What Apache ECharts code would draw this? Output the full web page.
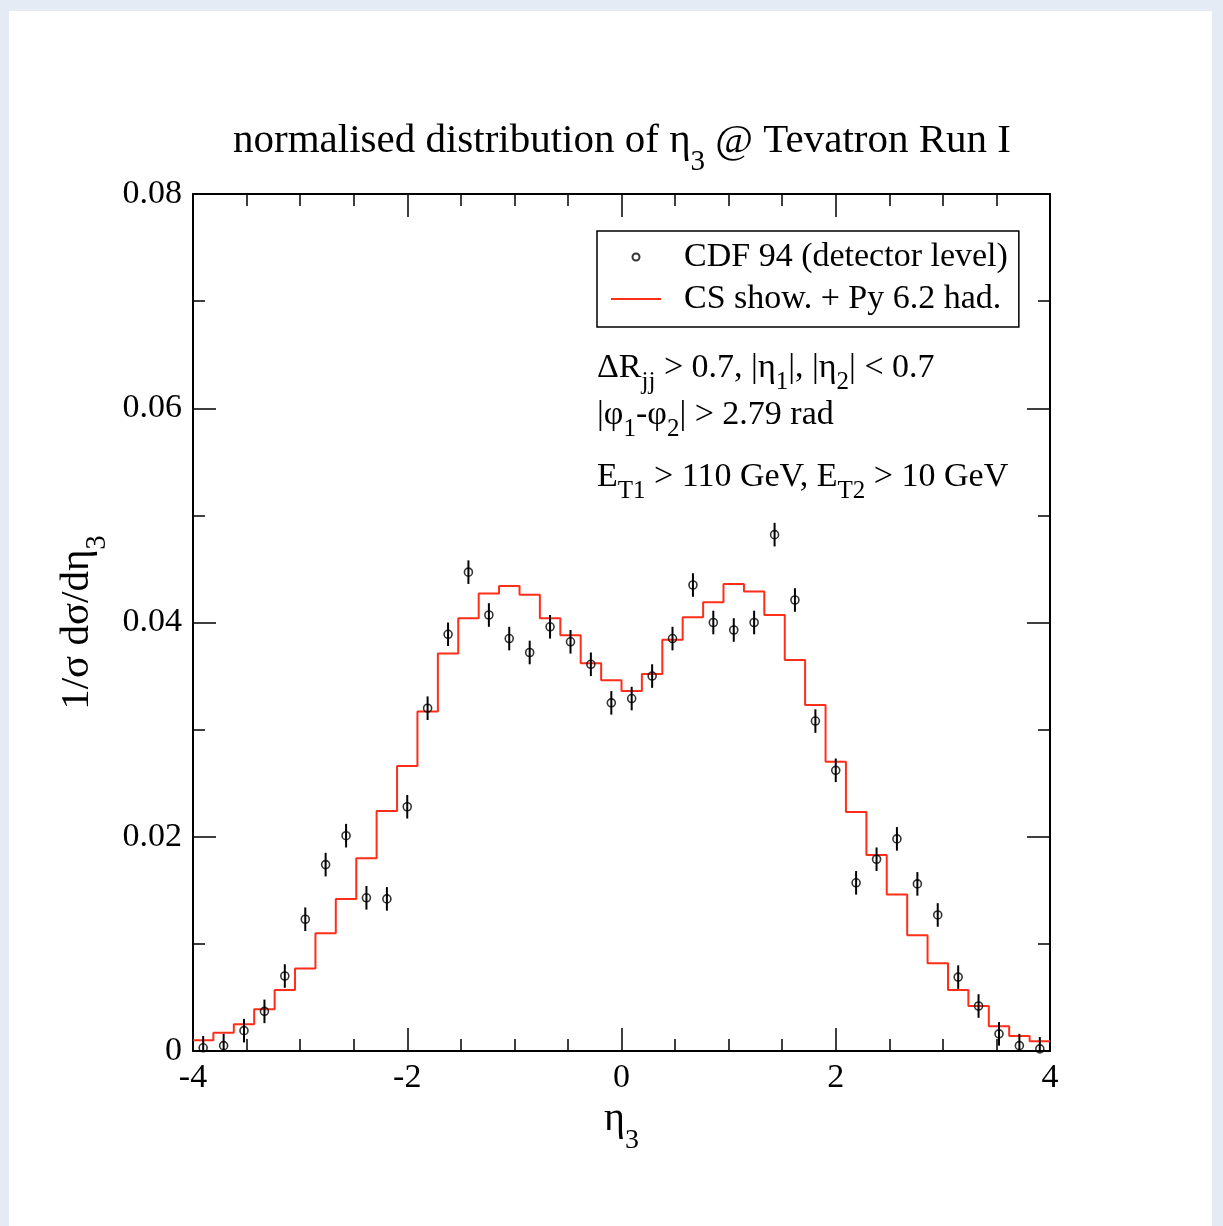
<!DOCTYPE html>
<html>
<head>
<meta charset="utf-8">
<script src="https://cdn.jsdelivr.net/npm/echarts@6.0.0/dist/echarts.min.js"></script>
<style>
  html, body { margin: 0; padding: 0; }
  body { width: 1223px; height: 1226px; background: #e4ebf5; position: relative; overflow: hidden; }
  .sheet { position: absolute; left: 9px; top: 11px; width: 1203px; height: 1215px; background: #fff; }
  #chart { position: absolute; left: 0; top: 0; width: 1223px; height: 1226px; }
</style>
</head>
<body>
<div class="sheet"></div>
<div id="chart"></div>
<script>
// eta_3 bin edges of the histogram (42 bins from -4 to 4)
const binEdges = [-4.000, -3.810, -3.619, -3.429, -3.238, -3.048, -2.857, -2.667, -2.476, -2.286,
  -2.095, -1.905, -1.714, -1.524, -1.333, -1.143, -0.952, -0.762, -0.571, -0.381, -0.190, 0.000,
  0.190, 0.381, 0.571, 0.762, 0.952, 1.143, 1.333, 1.524, 1.714, 1.905, 2.095, 2.286, 2.476,
  2.667, 2.857, 3.048, 3.238, 3.429, 3.619, 3.810, 4.000]
// bin centres where CDF points sit
const binCenters = [-3.905, -3.714, -3.524, -3.333, -3.143, -2.952, -2.762, -2.571, -2.381, -2.190,
  -2.000, -1.810, -1.619, -1.429, -1.238, -1.048, -0.857, -0.667, -0.476, -0.286, -0.095,
  0.095, 0.286, 0.476, 0.667, 0.857, 1.048, 1.238, 1.429, 1.619, 1.810, 2.000, 2.190, 2.381,
  2.571, 2.762, 2.952, 3.143, 3.333, 3.524, 3.714, 3.905]
// CS shower + Pythia 6.2 hadronisation (red histogram)
const mcValues = [0.0010, 0.0017, 0.0025, 0.0039, 0.0057, 0.0077, 0.0110, 0.0142, 0.0180, 0.0224,
  0.0266, 0.0317, 0.0371, 0.0404, 0.0427, 0.0434, 0.0426, 0.0404, 0.0388, 0.0362, 0.0346,
  0.0336, 0.0352, 0.0384, 0.0405, 0.0419, 0.0436, 0.0429, 0.0407, 0.0365, 0.0323, 0.0270,
  0.0223, 0.0183, 0.0146, 0.0108, 0.0082, 0.0057, 0.0042, 0.0023, 0.0014, 0.0009]
// CDF 94 detector level data
const cdfValues = [0.0003, 0.0005, 0.0019, 0.0037, 0.0070, 0.0123, 0.0174, 0.0201, 0.0143, 0.0142,
  0.0228, 0.0320, 0.0389, 0.0447, 0.0407, 0.0385, 0.0372, 0.0396, 0.0382, 0.0361, 0.0325,
  0.0329, 0.0350, 0.0385, 0.0435, 0.0400, 0.0393, 0.0400, 0.0482, 0.0421, 0.0308, 0.0262,
  0.0157, 0.0179, 0.0198, 0.0156, 0.0127, 0.0069, 0.0042, 0.0016, 0.0005, 0.0002]
const cdfErrors = [0.0011, 0.0011, 0.0011, 0.0011, 0.0011, 0.0011, 0.0011, 0.0011, 0.0011, 0.0011,
  0.0011, 0.0011, 0.0011, 0.0011, 0.0011, 0.0011, 0.0011, 0.0011, 0.0011, 0.0011, 0.0011,
  0.0011, 0.0011, 0.0011, 0.0011, 0.0011, 0.0011, 0.0011, 0.0011, 0.0011, 0.0011, 0.0011,
  0.0011, 0.0011, 0.0011, 0.0011, 0.0011, 0.0011, 0.0011, 0.0011, 0.0011, 0.0011]
const xTickLabels = { '-4': '-4', '-2': '-2', '0': '0', '2': '2', '4': '4' }
const yTickLabels = { '0': '0', '0.02': '0.02', '0.04': '0.04', '0.06': '0.06', '0.08': '0.08' }

const SERIF = '"Liberation Serif", "Times New Roman", serif'
const dataName = 'CDF 94 (detector level)'
const mcName = 'CS show. + Py 6.2 had.'

const histData = binEdges.map((e, i) => [e, mcValues[Math.min(i, mcValues.length - 1)]])
const pointData = binCenters.map((x, i) => [x, cdfValues[i]])
const errData = binCenters.map((x, i) => [x, cdfValues[i], cdfErrors[i]])

// rich text with subscripts
const subRich = (size, subSize, lh) => ({
  m: { fontSize: size, fontFamily: SERIF, color: '#000', lineHeight: lh },
  s: { fontSize: subSize, fontFamily: SERIF, color: '#000', lineHeight: subSize, verticalAlign: 'bottom' }
})
const zrRich = (size, subSize, lh) => ({
  m: { font: size + 'px ' + SERIF, fill: '#000', lineHeight: lh },
  s: { font: subSize + 'px ' + SERIF, fill: '#000', lineHeight: subSize, verticalAlign: 'bottom' }
})
const textEl = (x, y, text, rich, align) => ({
  type: 'text', x: x, y: y, z: 100,
  style: { text: text, rich: rich, align: align, textAlign: align, verticalAlign: 'middle', textVerticalAlign: 'middle' }
})

const axisCommon = {
  type: 'value',
  axisLine: { show: true, onZero: false, lineStyle: { color: '#000', width: 2 } },
  splitLine: { show: false },
  axisTick: { show: true, inside: true, length: 23, lineStyle: { color: '#000', width: 1.5 } },
  minorTick: { show: true, length: 12, lineStyle: { color: '#000', width: 1.5 } }
}

const myChart = echarts.init(document.getElementById('chart'))
const option = {
  animation: false,
  grid: { left: 193, right: 173, top: 194, bottom: 175 },
  legend: {
    orient: 'vertical',
    left: 597,
    top: 231,
    data: [
      { name: dataName },
      { name: mcName, itemStyle: { opacity: 0 } }
    ],
    selectedMode: false,
    backgroundColor: '#fff',
    borderColor: '#000',
    borderWidth: 1.5,
    padding: [9, 11, 11, 13],
    itemGap: 8,
    itemWidth: 50,
    itemHeight: 7,
    textStyle: { fontSize: 34, fontFamily: SERIF, color: '#000', padding: [0, 0, 0, 18] }
  },
  xAxis: [
    Object.assign({}, axisCommon, {
      min: -4, max: 4, interval: 2, position: 'bottom',
      minorTick: Object.assign({}, axisCommon.minorTick, { splitNumber: 4 }),
      axisLabel: {
        margin: 10, fontSize: 34, fontFamily: SERIF, color: '#000',
        formatter: (v) => xTickLabels[String(v)] || ''
      },
      name: '{m|η}{s|3}',
      nameLocation: 'middle',
      nameGap: 16,
      nameTextStyle: { rich: subRich(40, 28, 70) }
    }),
    Object.assign({}, axisCommon, {
      min: -4, max: 4, interval: 2, position: 'top',
      minorTick: Object.assign({}, axisCommon.minorTick, { splitNumber: 4 }),
      axisLabel: { show: false }
    })
  ],
  yAxis: [
    Object.assign({}, axisCommon, {
      min: 0, max: 0.08, interval: 0.02, position: 'left',
      minorTick: Object.assign({}, axisCommon.minorTick, { splitNumber: 2 }),
      axisLabel: {
        margin: 11, fontSize: 34, fontFamily: SERIF, color: '#000',
        formatter: (v) => yTickLabels[String(+v.toFixed(2))] || ''
      },
      name: '{m|1/σ dσ/dη}{s|3}',
      nameLocation: 'middle',
      nameGap: 80,
      nameTextStyle: { rich: subRich(41, 29, 68) }
    }),
    Object.assign({}, axisCommon, {
      min: 0, max: 0.08, interval: 0.02, position: 'right',
      minorTick: Object.assign({}, axisCommon.minorTick, { splitNumber: 2 }),
      axisLabel: { show: false }
    })
  ],
  graphic: [
    textEl(622, 141, '{m|normalised distribution of η}{s|3}{m| @ Tevatron Run I}', zrRich(41, 29, 72), 'center'),
    textEl(597, 368, '{m|ΔR}{s|jj}{m| > 0.7, |η}{s|1}{m||, |η}{s|2}{m|| < 0.7}', zrRich(34, 25, 54), 'left'),
    textEl(597, 415, '{m||φ}{s|1}{m|-φ}{s|2}{m|| > 2.79 rad}', zrRich(34, 25, 54), 'left'),
    textEl(597, 477, '{m|E}{s|T1}{m| > 110 GeV, E}{s|T2}{m| > 10 GeV}', zrRich(34, 25, 54), 'left')
  ],
  series: [
    {
      name: mcName,
      type: 'line',
      step: 'end',
      data: histData,
      symbol: 'none',
      lineStyle: { color: '#ff2e19', width: 2 },
      itemStyle: { color: '#ff2e19' },
      z: 3
    },
    {
      name: 'errors',
      type: 'custom',
      clip: true,
      data: errData,
      encode: { x: 0, y: 1 },
      renderItem: (params, api) => {
        const x = api.value(0)
        const y = api.value(1)
        const e = api.value(2)
        const p1 = api.coord([x, y + e])
        const p2 = api.coord([x, Math.max(0, y - e)])
        return {
          type: 'line',
          shape: { x1: p1[0], y1: p1[1], x2: p2[0], y2: p2[1] },
          style: { stroke: '#000', lineWidth: 2 }
        }
      },
      z: 4
    },
    {
      name: dataName,
      type: 'scatter',
      data: pointData,
      symbol: 'circle',
      symbolSize: 8,
      itemStyle: { color: 'rgba(255,255,255,0)', borderColor: '#000', borderWidth: 1.6 },
      z: 5
    }
  ]
}
myChart.setOption(option)
</script>
</body>
</html>
